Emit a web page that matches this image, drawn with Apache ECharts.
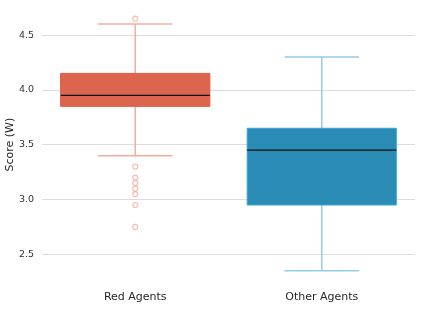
<!DOCTYPE html>
<html><head><meta charset="utf-8">
<script src="https://cdn.jsdelivr.net/npm/echarts@6/dist/echarts.min.js"></script>
<style>html,body{margin:0;padding:0;background:#fff}#c{width:421px;height:320px}</style>
</head><body><div id="c"></div>
<script>
const categories = ['Red Agents', 'Other Agents'];
const whiskerLow = [3.4, 2.35];
const q1 = [3.85, 2.95];
const median = [3.95, 3.45];
const q3 = [4.15, 3.65];
const whiskerHigh = [4.6, 4.3];
const redOutliers = [4.65, 3.3, 3.2, 3.15, 3.1, 3.05, 2.95, 2.75];
const otherOutliers = [];
const yTicks = [2.5, 3.0, 3.5, 4.0, 4.5];

const fills = ['#dc654f', '#2a8cb5'];
const borders = ['#e8553e', '#35a8d6'];
const whiskerColors = ['#f7ab9d', '#93cde3'];

const boxData = categories.map((c, i) => [i, whiskerLow[i], q1[i], median[i], q3[i], whiskerHigh[i]]);
const outlierData = [];
redOutliers.forEach(v => outlierData.push([0, v]));
otherOutliers.forEach(v => outlierData.push([1, v]));

const chart = echarts.init(document.getElementById('c'), null, {renderer: 'canvas'});
chart.setOption({
  animation: false,
  textStyle: {fontFamily: 'DejaVu Sans'},
  grid: {left: 42, right: 6, top: 6, bottom: 36.6, containLabel: false, outerBoundsMode: 'none'},
  xAxis: {
    type: 'category', data: categories,
    axisLine: {show: false}, axisTick: {show: false},
    axisLabel: {fontSize: 11, color: '#262626', margin: 8, fontFamily: 'DejaVu Sans'},
    splitLine: {show: false}
  },
  yAxis: {
    type: 'value', min: 2.235, max: 4.765,
    name: 'Score (W)', nameLocation: 'middle', nameGap: 26, nameMoveOverlap: false,
    nameTextStyle: {fontSize: 11, color: '#262626', fontFamily: 'DejaVu Sans'},
    axisLine: {show: false},
    axisTick: {show: false, customValues: yTicks},
    axisLabel: {fontSize: 9.5, color: '#333', margin: 8, customValues: yTicks,
      formatter: v => Number(v).toFixed(1)},
    splitLine: {show: true, lineStyle: {color: '#dcdcdc', width: 1}}
  },
  series: [
    {
      type: 'custom',
      data: boxData,
      encode: {x: 0, y: [1, 2, 3, 4, 5]},
      renderItem: function (params, api) {
        const i = api.value(0);
        const band = api.size([1, 0])[0];
        const bw = band * 0.8;
        const cw = bw / 2;
        const pLo = api.coord([i, api.value(1)]);
        const pQ1 = api.coord([i, api.value(2)]);
        const pMed = api.coord([i, api.value(3)]);
        const pQ3 = api.coord([i, api.value(4)]);
        const pHi = api.coord([i, api.value(5)]);
        const x = pMed[0];
        const wc = whiskerColors[i];
        const lw = {stroke: wc, lineWidth: 1.5};
        return {
          type: 'group',
          children: [
            {type: 'line', shape: {x1: x, y1: pQ3[1], x2: x, y2: pHi[1]}, style: lw},
            {type: 'line', shape: {x1: x, y1: pQ1[1], x2: x, y2: pLo[1]}, style: lw},
            {type: 'line', shape: {x1: x - cw / 2, y1: pHi[1], x2: x + cw / 2, y2: pHi[1]}, style: lw},
            {type: 'line', shape: {x1: x - cw / 2, y1: pLo[1], x2: x + cw / 2, y2: pLo[1]}, style: lw},
            {type: 'rect', shape: {x: x - bw / 2, y: pQ3[1], width: bw, height: pQ1[1] - pQ3[1]},
              style: {fill: fills[i], stroke: borders[i], lineWidth: 1}},
            {type: 'line', shape: {x1: x - bw / 2, y1: pMed[1], x2: x + bw / 2, y2: pMed[1]},
              style: {stroke: '#111', lineWidth: 1.2}}
          ]
        };
      }
    },
    {
      type: 'scatter',
      data: outlierData,
      symbol: 'circle', symbolSize: 5,
      itemStyle: {color: 'rgba(0,0,0,0)', borderColor: '#f7ab9d', borderWidth: 1.2}
    }
  ]
});
</script></body></html>
